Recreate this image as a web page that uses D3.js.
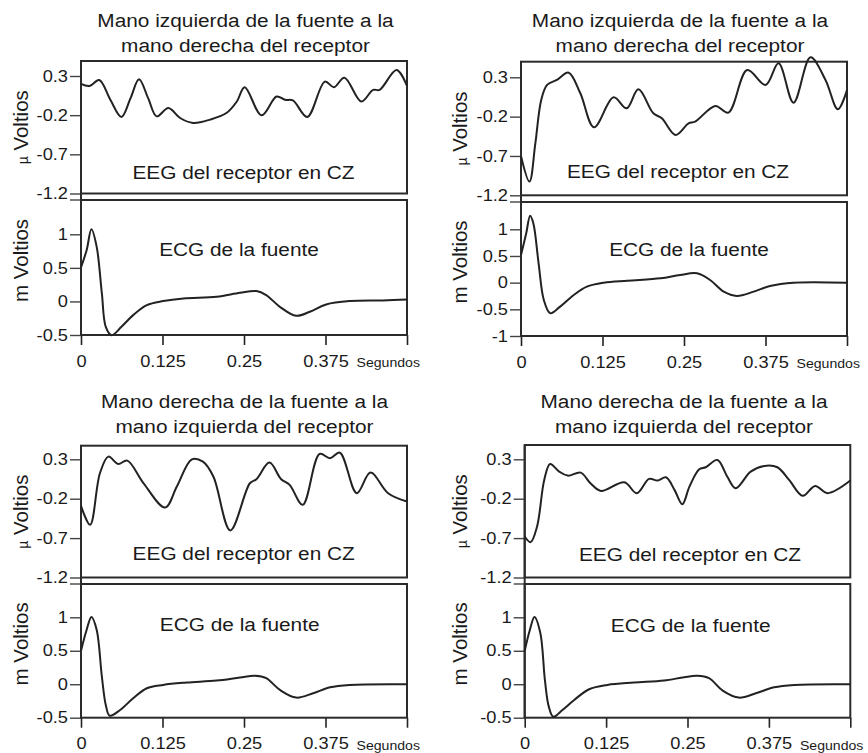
<!DOCTYPE html>
<html>
<head>
<meta charset="utf-8">
<script src="https://cdn.jsdelivr.net/npm/d3@7"></script>
<style>
  body { margin: 0; background: #fff; }
  text { font-family: "Liberation Sans", Arial, Helvetica, sans-serif; fill: #1a1a1a; }
</style>
</head>
<body>
<script>
// values (time in s, EEG in µV, ECG in mV)
const eegTimeA = [0, 0.013, 0.028, 0.045, 0.062, 0.076, 0.089, 0.103, 0.116, 0.134, 0.152, 0.172, 0.198, 0.223, 0.239, 0.251, 0.277, 0.300, 0.313, 0.325, 0.347, 0.374, 0.388, 0.404, 0.430, 0.448, 0.458, 0.484, 0.5];
const eegA = [0.199, 0.173, 0.249, -0.004, -0.223, 0.017, 0.258, 0.017, -0.215, -0.109, -0.236, -0.299, -0.257, -0.173, -0.025, 0.157, -0.202, 0.038, -0.004, -0.012, -0.223, 0.228, 0.157, 0.279, -0.025, 0.123, 0.123, 0.376, 0.173];
const ecgTimeA = [0, 0.0087, 0.016, 0.024, 0.032, 0.038, 0.047, 0.062, 0.080, 0.101, 0.126, 0.157, 0.208, 0.244, 0.269, 0.284, 0.305, 0.330, 0.351, 0.376, 0.412, 0.463, 0.5];
const ecgA = [0.507, 0.766, 1.075, 0.816, 0.119, -0.378, -0.502, -0.378, -0.204, -0.055, 0.005, 0.045, 0.07, 0.129, 0.154, 0.095, -0.08, -0.214, -0.154, -0.045, 0.005, 0.015, 0.03];

const eegTimeB = [0, 0.013, 0.022, 0.031, 0.040, 0.055, 0.073, 0.091, 0.112, 0.142, 0.162, 0.180, 0.203, 0.216, 0.237, 0.257, 0.267, 0.298, 0.318, 0.347, 0.375, 0.395, 0.418, 0.444, 0.467, 0.486, 0.5];
const eegB = [-0.7, -1.026, -0.539, 0.012, 0.203, 0.266, 0.359, 0.097, -0.336, 0.046, -0.094, 0.147, -0.158, -0.221, -0.433, -0.285, -0.264, -0.064, -0.149, 0.393, 0.203, 0.478, -0.022, 0.554, 0.266, -0.107, 0.139];
const ecgTimeB = [0, 0.008, 0.014, 0.019, 0.027, 0.035, 0.045, 0.060, 0.081, 0.101, 0.127, 0.163, 0.214, 0.244, 0.270, 0.290, 0.311, 0.331, 0.357, 0.382, 0.418, 0.5];
const ecgB = [0.519, 0.925, 1.256, 1.11, 0.363, -0.325, -0.575, -0.45, -0.231, -0.075, 0, 0.0375, 0.081, 0.144, 0.175, 0.05, -0.169, -0.25, -0.169, -0.0625, 0, 0];

const eegTimeC = [0, 0.014, 0.029, 0.042, 0.057, 0.071, 0.096, 0.129, 0.147, 0.170, 0.187, 0.203, 0.229, 0.259, 0.269, 0.289, 0.307, 0.320, 0.340, 0.366, 0.382, 0.397, 0.423, 0.444, 0.471, 0.5];
const eegC = [-0.291, -0.531, 0.123, 0.334, 0.241, 0.283, -0.004, -0.312, -0.046, 0.3, 0.270, 0.081, -0.603, -0.004, 0.047, 0.258, 0.047, -0.025, -0.278, 0.368, 0.313, 0.384, -0.130, 0.131, -0.130, -0.236];
const ecgTimeC = [0, 0.0087, 0.016, 0.024, 0.032, 0.038, 0.044, 0.060, 0.080, 0.101, 0.126, 0.162, 0.208, 0.244, 0.267, 0.284, 0.305, 0.330, 0.356, 0.382, 0.412, 0.5];
const ecgC = [0.5, 0.815, 1.005, 0.815, 0.115, -0.31, -0.47, -0.385, -0.21, -0.06, -0.01, 0.025, 0.055, 0.1, 0.125, 0.09, -0.085, -0.2, -0.135, -0.045, -0.01, 0];

const eegTimeD = [0, 0.009, 0.019, 0.030, 0.039, 0.053, 0.066, 0.086, 0.101, 0.117, 0.153, 0.172, 0.191, 0.204, 0.217, 0.230, 0.242, 0.253, 0.268, 0.278, 0.296, 0.311, 0.324, 0.347, 0.368, 0.388, 0.406, 0.427, 0.446, 0.465, 0.5];
const eegD = [-0.679, -0.751, -0.552, 0.038, 0.241, 0.144, 0.093, 0.131, -0.004, -0.101, 0.009, -0.130, 0.051, 0.030, 0.072, -0.088, -0.270, -0.046, 0.173, 0.199, 0.292, 0.081, -0.067, 0.144, 0.216, 0.199, 0.038, -0.164, -0.038, -0.130, 0.030];
const ecgTimeD = [0, 0.008, 0.015, 0.024, 0.031, 0.037, 0.044, 0.058, 0.076, 0.099, 0.127, 0.168, 0.214, 0.245, 0.265, 0.283, 0.304, 0.329, 0.355, 0.383, 0.414, 0.5];
const ecgD = [0.5, 0.815, 1.005, 0.765, 0.065, -0.335, -0.485, -0.385, -0.235, -0.075, -0.01, 0.025, 0.055, 0.105, 0.125, 0.09, -0.095, -0.2, -0.135, -0.045, -0.01, 0];

const titleLeftToRight = ["Mano izquierda de la fuente a la", "mano derecha del receptor"];
const titleRightToLeft = ["Mano derecha de la fuente a la", "mano izquierda del receptor"];
const eegTicks = [0.3, -0.2, -0.7, -1.2];
const ecgTicksShort = [1, 0.5, 0, -0.5];
const ecgTicksLong = [1, 0.5, 0, -0.5, -1];
const timeTicks = [0, 0.125, 0.25, 0.375, 0.5];
const timeLabels = ["0", "0.125", "0.25", "0.375", ""];

// the original figure is a little wider than tall, so text is stretched sideways
const SX = 1.12;

const svg = d3.select("body").append("svg")
  .attr("width", 868)
  .attr("height", 753);

function stretch(sel) {
  sel.each(function() {
    const t = d3.select(this);
    const x = +t.attr("x") || 0;
    t.attr("transform", `translate(${x * (1 - SX)},0) scale(${SX},1)`);
  });
}

const panels = [
  { title: titleLeftToRight, eegT: eegTimeA, eeg: eegA, ecgT: ecgTimeA, ecg: ecgA, ecgTicks: ecgTicksShort,
    x0: 81, x1: 407, eegTop: 61, eeg03: 76, eegBot: 193.5, ecgTop: 200, ecg1: 234.3, ecgBot: 335,
    titleX: 245.5, titleY: 27, eegLabX: 243.5, eegLabY: 179, ecgLabX: 239, ecgLabY: 255.7, yLabX: 28 },
  { title: titleLeftToRight, eegT: eegTimeB, eeg: eegB, ecgT: ecgTimeB, ecg: ecgB, ecgTicks: ecgTicksLong,
    x0: 521, x1: 847, eegTop: 61.7, eeg03: 77.3, eegBot: 195.3, ecgTop: 202, ecg1: 229.3, ecgBot: 336,
    titleX: 680, titleY: 27, eegLabX: 678, eegLabY: 178.5, ecgLabX: 689, ecgLabY: 256, yLabX: 467 },
  { title: titleRightToLeft, eegT: eegTimeC, eeg: eegC, ecgT: ecgTimeC, ecg: ecgC, ecgTicks: ecgTicksShort,
    x0: 81, x1: 407, eegTop: 445.7, eeg03: 459.3, eegBot: 577.5, ecgTop: 584, ecg1: 617.3, ecgBot: 717.7,
    titleX: 244.5, titleY: 408, eegLabX: 243.7, eegLabY: 560, ecgLabX: 239.7, ecgLabY: 630.7, yLabX: 28 },
  { title: titleRightToLeft, eegT: eegTimeD, eeg: eegD, ecgT: ecgTimeD, ecg: ecgD, ecgTicks: ecgTicksShort,
    x0: 524.7, x1: 850.3, eegTop: 445, eeg03: 459.3, eegBot: 577.5, ecgTop: 584, ecg1: 617.3, ecgBot: 717.7,
    titleX: 684, titleY: 408, eegLabX: 690, eegLabY: 561.5, ecgLabX: 690.7, ecgLabY: 631.7, yLabX: 467 }
];

panels.forEach(drawPanel);

function drawPanel(p) {
  const g = svg.append("g");
  const x = d3.scaleLinear().domain([0, 0.5]).range([p.x0, p.x1]);
  const yEeg = d3.scaleLinear().domain([-1.2, 0.3]).range([p.eegBot, p.eeg03]);
  const ecgMin = d3.min(p.ecgTicks);
  const yEcg = d3.scaleLinear().domain([ecgMin, 1]).range([p.ecgBot, p.ecg1]);

  // title, two lines
  p.title.forEach((line, i) => {
    g.append("text")
      .attr("x", p.titleX)
      .attr("y", p.titleY + i * 25.5)
      .attr("text-anchor", "middle")
      .attr("font-size", 18.6)
      .text(line)
      .call(stretch);
  });

  // y axes
  const styleAxis = a => {
    a.select(".domain").remove();
    a.attr("font-family", null).attr("font-size", null);
    a.selectAll(".tick line").attr("stroke", "#444").attr("stroke-width", 1.4);
    a.selectAll(".tick text").attr("font-size", 16.3).attr("fill", "#1a1a1a").call(stretch);
  };

  g.append("g")
    .attr("transform", `translate(${p.x0},0)`)
    .call(d3.axisLeft(yEeg).tickValues(eegTicks).tickSize(11).tickPadding(2).tickFormat(d => String(d)))
    .call(styleAxis);

  g.append("g")
    .attr("transform", `translate(${p.x0},0)`)
    .call(d3.axisLeft(yEcg).tickValues(p.ecgTicks).tickSize(11).tickPadding(2).tickFormat(d => String(d)))
    .call(styleAxis);

  // top of the ECG box runs out to the tick column too
  g.append("line")
    .attr("x1", p.x0 - 11).attr("x2", p.x0)
    .attr("y1", p.ecgTop).attr("y2", p.ecgTop)
    .attr("stroke", "#444").attr("stroke-width", 1.4);

  // time axis
  const xa = g.append("g")
    .attr("transform", `translate(0,${p.ecgBot})`)
    .call(d3.axisBottom(x).tickValues(timeTicks).tickSize(10).tickPadding(10)
      .tickFormat((d, i) => timeLabels[i]));
  xa.select(".domain").remove();
  xa.attr("font-family", null).attr("font-size", null);
  xa.selectAll(".tick line").attr("stroke", "#222").attr("stroke-width", 1.6);
  xa.selectAll(".tick text").attr("font-size", 16.3).attr("fill", "#1a1a1a").call(stretch);

  g.append("text")
    .attr("x", x(0.375) + 31)
    .attr("y", p.ecgBot + 32)
    .attr("font-size", 12.6)
    .text("Segundos")
    .call(stretch);

  // boxes
  g.append("rect")
    .attr("x", p.x0).attr("y", p.eegTop)
    .attr("width", p.x1 - p.x0).attr("height", p.eegBot - p.eegTop)
    .attr("fill", "none").attr("stroke", "#2b2b2b").attr("stroke-width", 2);
  g.append("rect")
    .attr("x", p.x0).attr("y", p.ecgTop)
    .attr("width", p.x1 - p.x0).attr("height", p.ecgBot - p.ecgTop)
    .attr("fill", "none").attr("stroke", "#2b2b2b").attr("stroke-width", 2);
  g.append("line")
    .attr("x1", p.x0).attr("x2", p.x0)
    .attr("y1", p.eegTop).attr("y2", p.ecgBot)
    .attr("stroke", "#2b2b2b").attr("stroke-width", 2);

  // inner labels
  g.append("text")
    .attr("x", p.eegLabX).attr("y", p.eegLabY)
    .attr("text-anchor", "middle").attr("font-size", 18.6)
    .text("EEG del receptor en CZ")
    .call(stretch);
  g.append("text")
    .attr("x", p.ecgLabX).attr("y", p.ecgLabY)
    .attr("text-anchor", "middle").attr("font-size", 18.6)
    .text("ECG de la fuente")
    .call(stretch);

  // rotated unit labels
  const eegMid = (p.eegTop + p.eegBot) / 2;
  const ecgMid = (p.ecgTop + p.ecgBot) / 2 - 7;
  const yl1 = g.append("text")
    .attr("transform", `translate(${p.yLabX},${eegMid}) rotate(-90)`)
    .attr("text-anchor", "middle")
    .attr("font-size", 20.5);
  yl1.append("tspan").attr("font-size", 14).text("µ");
  yl1.append("tspan").text(" Voltios");
  g.append("text")
    .attr("transform", `translate(${p.yLabX},${ecgMid}) rotate(-90)`)
    .attr("text-anchor", "middle")
    .attr("font-size", 20.5)
    .text("m Voltios");

  // traces
  const line = d3.line().curve(d3.curveCatmullRom.alpha(0.5));
  g.append("path")
    .datum(p.eegT.map((t, i) => [x(t), yEeg(p.eeg[i])]))
    .attr("d", line)
    .attr("fill", "none").attr("stroke", "#222").attr("stroke-width", 2);
  g.append("path")
    .datum(p.ecgT.map((t, i) => [x(t), yEcg(p.ecg[i])]))
    .attr("d", line)
    .attr("fill", "none").attr("stroke", "#222").attr("stroke-width", 2);
}
</script>
</body>
</html>
